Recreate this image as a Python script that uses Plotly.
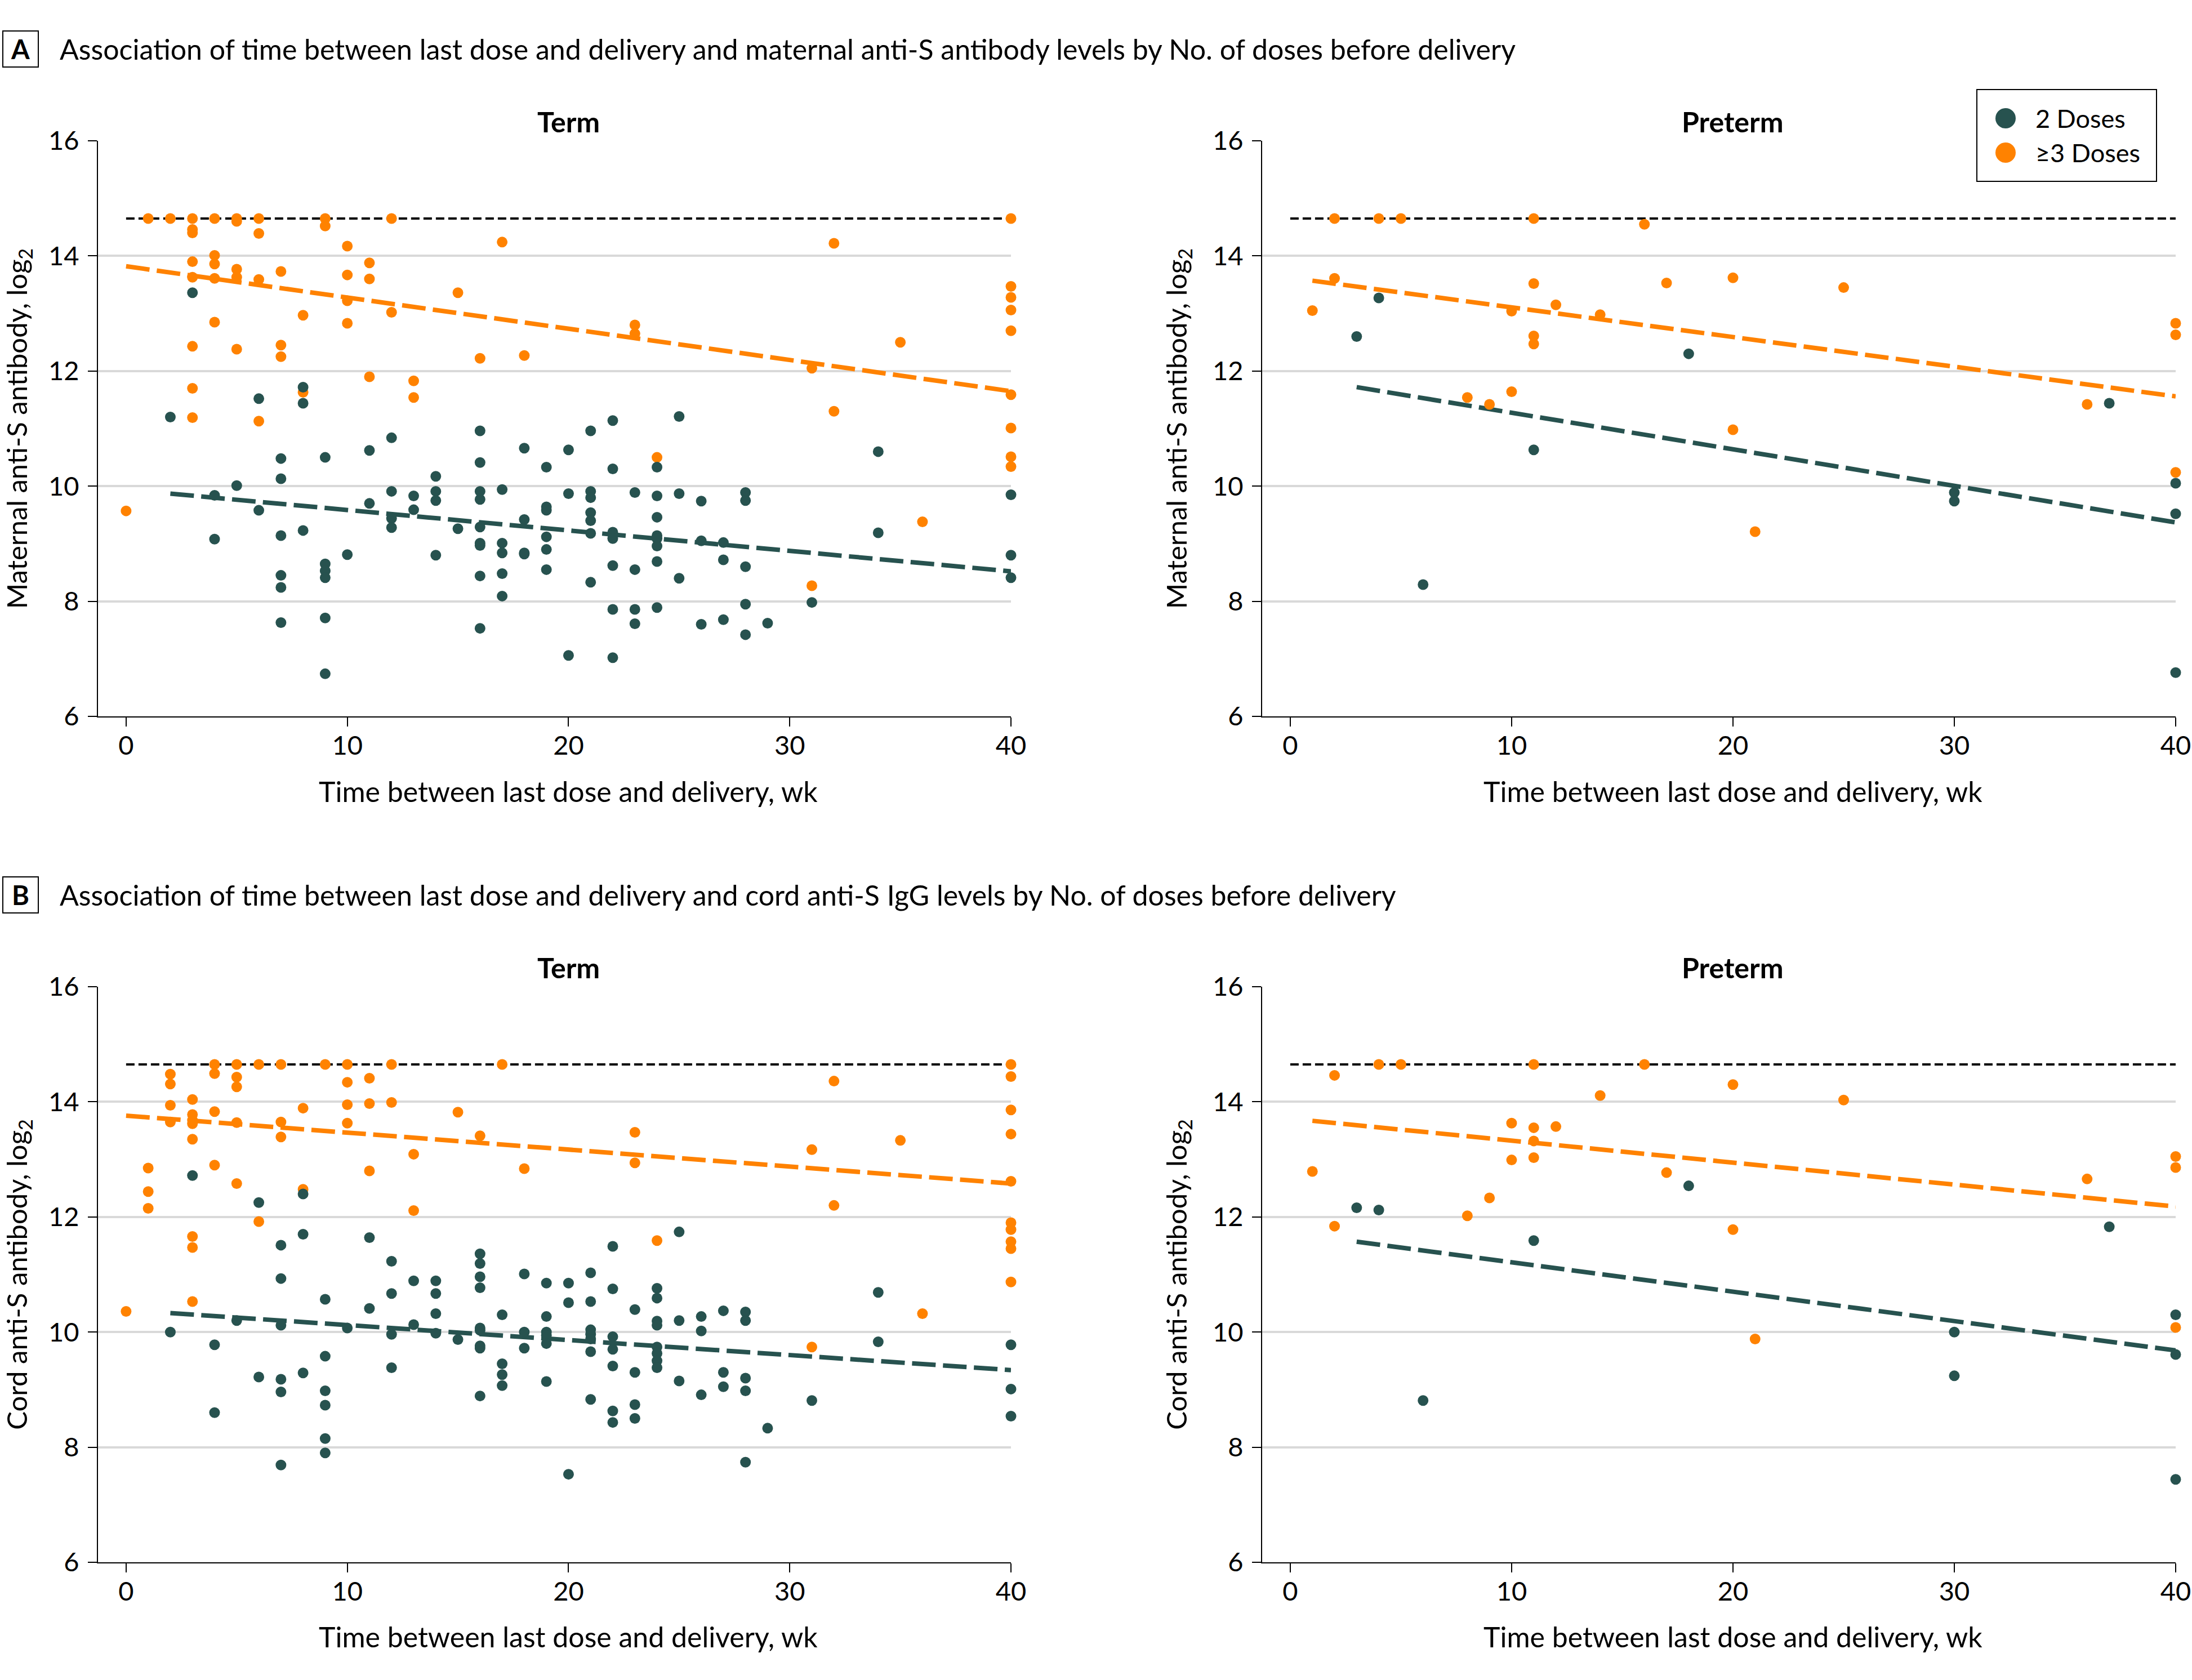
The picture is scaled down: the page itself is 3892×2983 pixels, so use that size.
import plotly.graph_objects as go

# ---------------- DATA ----------------
# Panel A (maternal), Term, 2 doses
a_term_2_wk = [2, 3, 4, 4, 5, 6, 6, 7, 7, 7, 7, 7, 7, 8, 8, 8, 9, 9, 9, 9, 9, 9, 10, 11, 11,
               12, 12, 12, 12, 13, 13, 14, 14, 14, 14, 15,
               16, 16, 16, 16, 16, 16, 16, 16, 16, 17, 17, 17, 17, 17, 18, 18, 18, 18,
               19, 19, 19, 19, 19, 19, 20, 20, 20, 21, 21, 21, 21, 21, 21, 21,
               22, 22, 22, 22, 22, 22, 22, 23, 23, 23, 23, 24, 24, 24, 24, 24, 24, 24, 24,
               25, 25, 25, 26, 26, 26, 27, 27, 27, 28, 28, 28, 28, 28, 29, 31, 34, 34, 40, 40, 40]
a_term_2_ab = [11.20, 13.36, 9.84, 9.08, 10.01, 11.52, 9.58, 10.48, 10.13, 9.14, 8.45, 8.24, 7.63,
               11.72, 11.44, 9.23, 10.50, 8.65, 8.53, 8.41, 7.71, 6.74, 8.81, 10.62, 9.70,
               10.84, 9.91, 9.44, 9.28, 9.83, 9.59, 10.17, 9.91, 9.75, 8.80, 9.26,
               10.96, 10.41, 9.91, 9.77, 9.29, 9.01, 8.97, 8.44, 7.53, 9.94, 9.01, 8.84, 8.48, 8.09,
               10.66, 9.42, 8.84, 8.82, 10.33, 9.64, 9.58, 9.12, 8.90, 8.55, 10.63, 9.87, 7.06,
               10.96, 9.91, 9.80, 9.54, 9.40, 9.18, 8.33, 11.14, 10.30, 9.20, 9.09, 8.62, 7.86, 7.02,
               9.89, 8.55, 7.86, 7.61, 10.33, 9.83, 9.46, 9.14, 9.09, 8.96, 8.69, 7.89,
               11.21, 9.87, 8.40, 9.74, 9.05, 7.60, 9.02, 8.72, 7.68, 9.89, 9.75, 8.60, 7.95, 7.42,
               7.62, 7.98, 10.60, 9.19, 9.85, 8.80, 8.41]
# Panel A, Term, >=3 doses
a_term_3_wk = [0, 1, 2, 3, 3, 3, 3, 3, 3, 3, 3, 4, 4, 4, 4, 4, 5, 5, 5, 5, 5, 6, 6, 6, 6,
               7, 7, 7, 8, 8, 9, 9, 10, 10, 10, 10, 11, 11, 11, 12, 12, 13, 13, 15, 16, 17, 18,
               23, 23, 24, 31, 31, 32, 32, 35, 36, 40, 40, 40, 40, 40, 40, 40, 40, 40]
a_term_3_ab = [9.57, 14.65, 14.65, 14.65, 14.46, 14.40, 13.90, 13.63, 12.43, 11.70, 11.19,
               14.65, 14.01, 13.86, 13.61, 12.85, 14.65, 14.60, 13.77, 13.63, 12.38,
               14.65, 14.39, 13.59, 11.13, 13.73, 12.45, 12.25, 12.97, 11.63, 14.65, 14.52,
               14.17, 13.67, 13.22, 12.83, 13.88, 13.60, 11.90, 14.65, 13.02, 11.83, 11.54,
               13.36, 12.22, 14.24, 12.27, 12.80, 12.65, 10.50, 12.05, 8.27, 14.22, 11.30,
               12.50, 9.38, 14.65, 13.47, 13.28, 13.06, 12.70, 11.59, 11.01, 10.51, 10.34]
# Panel A, Preterm
a_pre_2_wk = [3, 4, 6, 11, 18, 30, 30, 37, 40, 40, 40]
a_pre_2_ab = [12.60, 13.27, 8.29, 10.63, 12.30, 9.89, 9.74, 11.44, 10.05, 9.52, 6.76]
a_pre_3_wk = [1, 2, 2, 4, 5, 8, 9, 10, 10, 11, 11, 11, 11, 12, 14, 16, 17, 20, 20, 21, 25, 36, 40, 40, 40]
a_pre_3_ab = [13.05, 14.65, 13.61, 14.65, 14.65, 11.54, 11.42, 13.04, 11.64, 14.65, 13.52, 12.61,
              12.47, 13.15, 12.98, 14.55, 13.53, 13.62, 10.98, 9.21, 13.45, 11.42, 12.83, 12.63, 10.24]

# Panel B (cord), Term, 2 doses
b_term_2_wk = [2, 3, 4, 4, 5, 6, 6, 7, 7, 7, 7, 7, 7, 8, 8, 8, 9, 9, 9, 9, 9, 9, 10, 11, 11,
               12, 12, 12, 12, 13, 13, 14, 14, 14, 14, 15,
               16, 16, 16, 16, 16, 16, 16, 16, 16, 17, 17, 17, 17, 18, 18, 18,
               19, 19, 19, 19, 19, 19, 20, 20, 20, 21, 21, 21, 21, 21, 21, 21,
               22, 22, 22, 22, 22, 22, 22, 23, 23, 23, 23, 24, 24, 24, 24, 24, 24, 24, 24,
               25, 25, 25, 26, 26, 26, 27, 27, 27, 28, 28, 28, 28, 28, 29, 31, 34, 34, 40, 40, 40]
b_term_2_ab = [10.00, 12.72, 9.78, 8.60, 10.20, 12.25, 9.22, 11.51, 10.93, 10.12, 9.18, 8.96, 7.69,
               12.40, 11.70, 9.29, 10.57, 9.58, 8.98, 8.73, 8.15, 7.90, 10.07, 11.64, 10.41,
               11.23, 10.67, 9.96, 9.38, 10.89, 10.13, 10.89, 10.67, 10.32, 9.98, 9.87,
               11.36, 11.19, 10.96, 10.77, 10.07, 10.03, 9.76, 9.72, 8.89, 10.30, 9.45, 9.26, 9.07,
               11.01, 10.00, 9.72, 10.85, 10.27, 10.00, 9.94, 9.80, 9.14, 10.85, 10.51, 7.53,
               11.03, 10.53, 10.04, 9.96, 9.88, 9.66, 8.83, 11.49, 10.75, 9.92, 9.70, 9.41, 8.63, 8.43,
               10.39, 9.30, 8.74, 8.50, 10.76, 10.59, 10.19, 10.12, 9.74, 9.63, 9.50, 9.38,
               11.74, 10.20, 9.15, 10.27, 10.02, 8.91, 10.37, 9.30, 9.05, 10.35, 10.20, 9.20, 8.98, 7.74,
               8.33, 8.81, 10.69, 9.83, 9.78, 9.01, 8.54]
# Panel B, Term, >=3 doses
b_term_3_wk = [0, 1, 1, 1, 2, 2, 2, 2, 3, 3, 3, 3, 3, 3, 3, 3, 4, 4, 4, 4, 5, 5, 5, 5, 5,
               6, 6, 7, 7, 7, 8, 8, 9, 10, 10, 10, 10, 11, 11, 11, 12, 12, 13, 13, 15, 16, 17, 18,
               23, 23, 24, 31, 31, 32, 32, 35, 36, 40, 40, 40, 40, 40, 40, 40, 40, 40, 40]
b_term_3_ab = [10.36, 12.85, 12.44, 12.15, 14.48, 14.31, 13.94, 13.65,
               14.04, 13.78, 13.68, 13.62, 13.35, 11.66, 11.47, 10.53, 14.65, 14.49, 13.83, 12.90,
               14.65, 14.43, 14.26, 13.64, 12.58, 14.65, 11.92, 14.65, 13.65, 13.39, 13.89, 12.48,
               14.65, 14.65, 14.34, 13.95, 13.63, 14.41, 13.97, 12.80, 14.65, 13.99, 13.09, 12.11,
               13.82, 13.41, 14.65, 12.84, 13.47, 12.94, 11.59, 13.17, 9.74, 14.36, 12.20, 13.33,
               10.32, 14.65, 14.44, 13.86, 13.44, 12.62, 11.90, 11.78, 11.57, 11.45, 10.87]
# Panel B, Preterm
b_pre_2_wk = [3, 4, 6, 11, 18, 30, 30, 37, 40, 40, 40]
b_pre_2_ab = [12.16, 12.12, 8.81, 11.59, 12.54, 10.00, 9.24, 11.83, 10.30, 9.61, 7.44]
b_pre_3_wk = [1, 2, 2, 4, 5, 8, 9, 10, 10, 11, 11, 11, 11, 12, 14, 16, 17, 20, 20, 21, 25, 36, 40, 40, 40]
b_pre_3_ab = [12.79, 14.46, 11.84, 14.65, 14.65, 12.02, 12.33, 13.63, 12.99, 14.65, 13.55, 13.32,
              13.03, 13.57, 14.11, 14.65, 12.77, 14.30, 11.78, 9.88, 14.03, 12.66, 13.05, 12.86, 10.08]

# Fitted regression lines (end points)
fit_a_term_2 = ([2, 40], [9.87, 8.52])
fit_a_term_3 = ([0, 40], [13.82, 11.65])
fit_a_pre_2 = ([3, 40], [11.72, 9.37])
fit_a_pre_3 = ([1, 40], [13.57, 11.56])
fit_b_term_2 = ([2, 40], [10.33, 9.34])
fit_b_term_3 = ([0, 40], [13.76, 12.58])
fit_b_pre_2 = ([3, 40], [11.57, 9.68])
fit_b_pre_3 = ([1, 40], [13.67, 12.18])

upper_limit = 14.65
limit_wk = [0, 40]

x_ticks = [0, 10, 20, 30, 40]
y_ticks = [6, 8, 10, 12, 14, 16]

series_names = ["2 Doses", "≥3 Doses"]
panel_titles = ["Term", "Preterm"]
header_a = "Association of time between last dose and delivery and maternal anti-S antibody levels by No. of doses before delivery"
header_b = "Association of time between last dose and delivery and cord anti-S IgG levels by No. of doses before delivery"
x_title = "Time between last dose and delivery, wk"
y_title_a = "Maternal anti-S antibody, log<sub>2</sub>"
y_title_b = "Cord anti-S antibody, log<sub>2</sub>"

# ---------------- STYLE ----------------
W, H = 3892, 2983
TEAL = "#27524F"
ORANGE = "#FF8200"
FONT = "Lato, 'Source Sans Pro', Roboto, sans-serif"
FS = 47

fig = go.Figure()

panels = [
    ("x", "y", a_term_2_wk, a_term_2_ab, a_term_3_wk, a_term_3_ab, fit_a_term_2, fit_a_term_3),
    ("x2", "y2", a_pre_2_wk, a_pre_2_ab, a_pre_3_wk, a_pre_3_ab, fit_a_pre_2, fit_a_pre_3),
    ("x3", "y3", b_term_2_wk, b_term_2_ab, b_term_3_wk, b_term_3_ab, fit_b_term_2, fit_b_term_3),
    ("x4", "y4", b_pre_2_wk, b_pre_2_ab, b_pre_3_wk, b_pre_3_ab, fit_b_pre_2, fit_b_pre_3),
]

for xa, ya, x2, y2, x3, y3, f2, f3 in panels:
    fig.add_trace(go.Scatter(x=limit_wk, y=[upper_limit, upper_limit], xaxis=xa, yaxis=ya,
                             mode="lines", line=dict(color="black", width=4, dash="15px,7px"),
                             showlegend=False, hoverinfo="skip"))
    fig.add_trace(go.Scatter(x=f3[0], y=f3[1], xaxis=xa, yaxis=ya, mode="lines",
                             line=dict(color=ORANGE, width=8, dash="42px,13px"),
                             showlegend=False, hoverinfo="skip"))
    fig.add_trace(go.Scatter(x=f2[0], y=f2[1], xaxis=xa, yaxis=ya, mode="lines",
                             line=dict(color=TEAL, width=8, dash="42px,13px"),
                             showlegend=False, hoverinfo="skip"))
    fig.add_trace(go.Scatter(x=x3, y=y3, xaxis=xa, yaxis=ya, mode="markers", name=series_names[1],
                             marker=dict(color=ORANGE, size=19, line=dict(width=0)),
                             cliponaxis=False, showlegend=False))
    fig.add_trace(go.Scatter(x=x2, y=y2, xaxis=xa, yaxis=ya, mode="markers", name=series_names[0],
                             marker=dict(color=TEAL, size=19, line=dict(width=0)),
                             cliponaxis=False, showlegend=False))

dom_x = [[174 / W, 1795 / W], [2241 / W, 3863 / W]]
dom_y = [[1 - 1272 / H, 1 - 250 / H], [1 - 2774 / H, 1 - 1752 / H]]

axis_common = dict(showline=True, linecolor="black", linewidth=2, ticks="outside", ticklen=16,
                   tickwidth=2, tickcolor="black", zeroline=False, automargin=False,
                   tickfont=dict(family=FONT, size=FS, color="black"))

layout_axes = {}
for i, (xi, yi) in enumerate([(0, 0), (1, 0), (0, 1), (1, 1)]):
    n = "" if i == 0 else str(i + 1)
    layout_axes["xaxis" + n] = dict(axis_common, domain=dom_x[xi], range=[-1.27, 40],
                                    tickvals=x_ticks, showgrid=False, anchor="y" + n,
                                    ticklabelstandoff=-6)
    layout_axes["yaxis" + n] = dict(axis_common, domain=dom_y[yi], range=[6, 16],
                                    tickvals=y_ticks, showgrid=True, gridcolor="#D9D9D9",
                                    gridwidth=4, anchor="x" + n, ticklabelstandoff=6,
                                    title=dict(text=y_title_a if yi == 0 else y_title_b, standoff=30,
                                               font=dict(family=FONT, size=49, color="black")))

annotations = []
shapes = []
for letter, header, yc in [("A", header_a, 87), ("B", header_b, 1589)]:
    annotations.append(dict(text="<b>" + letter + "</b>", x=36 / W, y=1 - yc / H, xref="paper", yref="paper",
                            showarrow=False, xanchor="center", yanchor="middle",
                            font=dict(family=FONT, size=FS, color="black")))
    shapes.append(dict(type="rect", xref="paper", yref="paper", x0=5 / W, x1=68 / W,
                       y0=1 - (yc + 32) / H, y1=1 - (yc - 32) / H, line=dict(color="black", width=2)))
    annotations.append(dict(text=header, x=104 / W, y=1 - yc / H, xref="paper", yref="paper",
                            showarrow=False, xanchor="left", yanchor="middle",
                            font=dict(family=FONT, size=50, color="black")))

for i, (yc, yt) in enumerate([(216, 1405), (216, 1405), (1718, 2906), (1718, 2906)]):
    n = "" if i == 0 else str(i + 1)
    annotations.append(dict(text="<b>" + panel_titles[i % 2] + "</b>", x=20, xref="x" + n,
                            y=1 - yc / H, yref="paper", showarrow=False,
                            xanchor="center", yanchor="middle",
                            font=dict(family=FONT, size=50, color="black")))
    # x-axis title, centred on week 20 as in the reference
    annotations.append(dict(text=x_title, x=20, xref="x" + n,
                            y=1 - yt / H, yref="paper", showarrow=False,
                            xanchor="center", yanchor="middle",
                            font=dict(family=FONT, size=50, color="black")))

# legend box (drawn manually for large symbols)
shapes.append(dict(type="rect", xref="paper", yref="paper", x0=3510 / W, x1=3829 / W,
                   y0=1 - 322 / H, y1=1 - 159 / H, line=dict(color="black", width=2),
                   fillcolor="white"))
for col, name, yc in [(TEAL, series_names[0], 210), (ORANGE, series_names[1], 271)]:
    shapes.append(dict(type="circle", xref="paper", yref="paper", x0=3543 / W, x1=3579 / W,
                       y0=1 - (yc + 18) / H, y1=1 - (yc - 18) / H, fillcolor=col,
                       line=dict(color=col, width=0)))
    annotations.append(dict(text=name, x=3612 / W, y=1 - yc / H, xref="paper", yref="paper",
                            showarrow=False, xanchor="left", yanchor="middle",
                            font=dict(family=FONT, size=45, color="black")))

fig.update_layout(width=W, height=H, margin=dict(l=0, r=0, t=0, b=0, autoexpand=False),
                  paper_bgcolor="white", plot_bgcolor="white",
                  font=dict(family=FONT, size=FS, color="black"),
                  showlegend=False, annotations=annotations, shapes=shapes, **layout_axes)

fig.write_html("out.html", config={"displayModeBar": False},
               post_script="document.body.style.margin='0px';document.body.style.overflow='hidden';")
